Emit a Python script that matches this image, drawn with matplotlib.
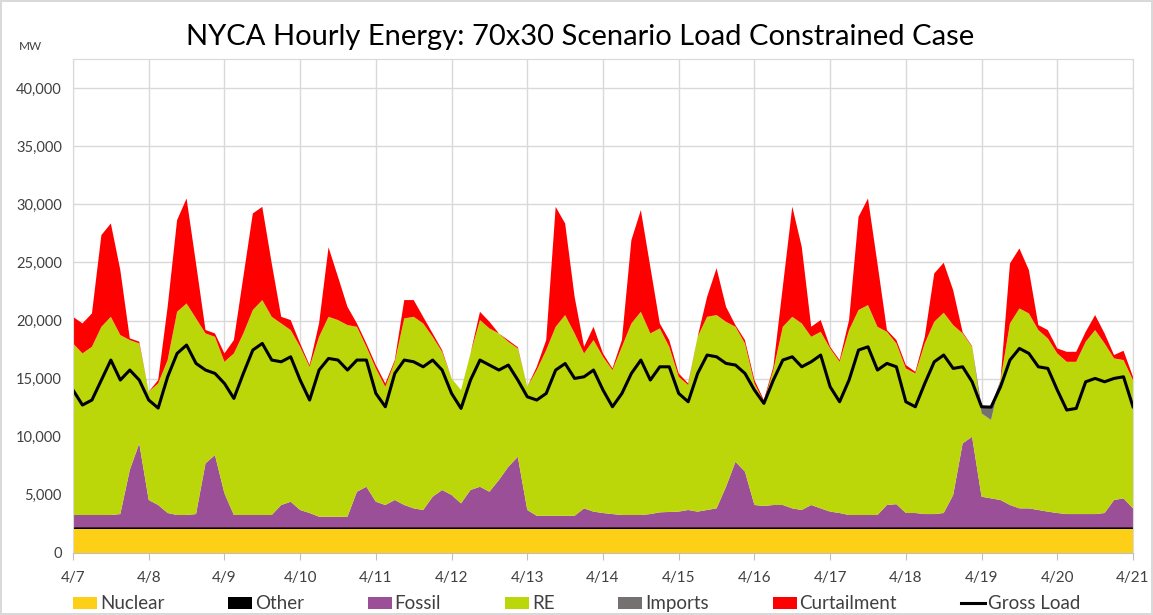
import matplotlib
matplotlib.use("Agg")
import matplotlib.pyplot as plt
import numpy as np
from matplotlib.ticker import StrMethodFormatter

plt.rcParams['font.family'] = ['Lato', 'DejaVu Sans']

# 3-hourly samples, 4/7 00:00 through 4/21 00:00 (values in MW)
day_labels = ["4/7", "4/8", "4/9", "4/10", "4/11", "4/12", "4/13", "4/14",
              "4/15", "4/16", "4/17", "4/18", "4/19", "4/20", "4/21"]
hours = np.arange(0, 337, 3)
days = hours / 24.0

nuclear = np.full(len(hours), 2050)
other = np.full(len(hours), 150)

fossil = [
    1070, 1070, 1070, 1070, 1070, 1150, 4940, 7230,   # 4/7
    2360, 1930, 1240, 1070, 1070, 1150, 5510, 6230,   # 4/8
    2930, 1070, 1070, 1070, 1070, 1070, 1930, 2210,   # 4/9
    1500, 1240, 920, 920, 920, 920, 3070, 3500,       # 4/10
    2210, 1930, 2360, 1930, 1640, 1500, 2640, 3220,   # 4/11
    2790, 2070, 3220, 3500, 3070, 4080, 5220, 6080,   # 4/12
    1500, 1000, 1000, 1000, 1000, 1000, 1640, 1360,   # 4/13
    1240, 1150, 1070, 1070, 1070, 1150, 1300, 1330,   # 4/14
    1360, 1500, 1360, 1500, 1640, 3500, 5650, 4800,   # 4/15
    1930, 1850, 1930, 1930, 1640, 1500, 1930, 1640,   # 4/16
    1360, 1240, 1070, 1070, 1070, 1070, 1930, 2000,   # 4/17
    1240, 1240, 1150, 1150, 1240, 2790, 7230, 7800,   # 4/18
    2640, 2500, 2360, 1930, 1640, 1640, 1500, 1360,   # 4/19
    1240, 1150, 1150, 1150, 1150, 1240, 2360, 2500,   # 4/20
    1640,                                             # 4/21
]

renewables = [
    14760, 13900, 14470, 16190, 17050, 15400, 11180, 8600,    # 4/7
    9310, 10460, 13160, 17480, 18200, 16830, 11180, 10170,    # 4/8
    11320, 13900, 15620, 17630, 18490, 17050, 15620, 14770,   # 4/9
    14040, 12580, 15480, 17200, 16920, 16490, 14190, 12040,   # 4/10
    11470, 10170, 11890, 16050, 16480, 16050, 13760, 11890,   # 4/11
    10030, 9750, 11750, 14340, 14050, 12610, 10750, 9320,     # 4/12
    10600, 12540, 14260, 16260, 17270, 15690, 13330, 14760,   # 4/13
    13440, 12390, 14470, 16480, 17480, 15540, 15820, 14210,   # 4/14
    11600, 10750, 15040, 16620, 16630, 14190, 11610, 11030,   # 4/15
    10460, 8960, 11610, 15330, 16480, 16050, 14470, 15190,    # 4/16
    14040, 13010, 15910, 17630, 18060, 16190, 14900, 13830,   # 4/17
    12440, 12010, 14680, 16540, 17230, 14620, 9460, 7740,     # 4/18
    7170, 6740, 10320, 15620, 17200, 16770, 15480, 14900,     # 4/19
    13730, 13100, 13100, 14820, 15830, 14590, 12180, 11900,   # 4/20
    11040,                                                    # 4/21
]

imports = [
    0, 0, 0, 0, 0, 0, 0, 0,        # 4/7
    0, 0, 0, 0, 0, 0, 0, 0,        # 4/8
    0, 0, 0, 0, 0, 0, 0, 0,        # 4/9
    0, 0, 0, 0, 0, 0, 0, 0,        # 4/10
    0, 0, 0, 0, 0, 0, 0, 0,        # 4/11
    0, 0, 0, 0, 0, 0, 0, 0,        # 4/12
    0, 0, 0, 0, 0, 0, 0, 0,        # 4/13
    0, 0, 0, 0, 0, 0, 0, 0,        # 4/14
    0, 0, 0, 0, 0, 0, 0, 0,        # 4/15
    0, 0, 0, 0, 0, 0, 0, 0,        # 4/16
    0, 0, 0, 0, 0, 0, 0, 0,        # 4/17
    0, 0, 0, 0, 0, 0, 0, 0,        # 4/18
    570, 1160, 0, 0, 0, 0, 0, 0,   # 4/19
    0, 0, 0, 0, 0, 0, 0, 0,        # 4/20
    0,                             # 4/21
]

curtailment = [
    2290, 2580, 2870, 7890, 8030, 5590, 150, 150,    # 4/7
    0, 290, 4580, 7890, 9030, 4730, 300, 290,        # 4/8
    720, 1150, 4870, 8310, 8020, 4590, 570, 860,     # 4/9
    290, 150, 1150, 5980, 3720, 1570, 290, 290,      # 4/10
    290, 290, 150, 1580, 1440, 570, 290, 150,        # 4/11
    0, 0, 0, 710, 580, 0, 130, 100,                  # 4/12
    0, 280, 860, 10320, 7880, 3150, 570, 1140,       # 4/13
    290, 140, 580, 7170, 8750, 5730, 430, 580,       # 4/14
    290, 140, 0, 1720, 4030, 1290, 140, 290,         # 4/15
    290, 150, 280, 3440, 9480, 6590, 860, 1010,      # 4/16
    140, 150, 860, 8020, 9170, 5450, 150, 290,       # 4/17
    290, 140, 570, 4160, 4300, 3000, 100, 60,        # 4/18
    0, 0, 0, 5160, 5160, 3730, 430, 720,             # 4/19
    430, 860, 860, 860, 1290, 860, 290, 800,         # 4/20
    280,                                             # 4/21
]

gross_load = [
    14020, 12730, 13160, 14880, 16600, 14880, 15740, 14880,   # 4/7
    13160, 12470, 15160, 17170, 17890, 16310, 15740, 15450,   # 4/8
    14590, 13300, 15450, 17460, 18030, 16600, 16450, 16880,   # 4/9
    14880, 13160, 15740, 16740, 16600, 15740, 16600, 16600,   # 4/10
    13730, 12580, 15450, 16600, 16450, 16020, 16600, 15740,   # 4/11
    13730, 12440, 14880, 16600, 16170, 15740, 16170, 14880,   # 4/12
    13440, 13160, 13730, 15740, 16300, 15020, 15160, 15740,   # 4/13
    14020, 12580, 13730, 15450, 16600, 14880, 16020, 16020,   # 4/14
    13730, 13010, 15450, 17030, 16880, 16310, 16170, 15450,   # 4/15
    14020, 12870, 14880, 16600, 16880, 16020, 16450, 17030,   # 4/16
    14300, 13010, 14880, 17460, 17740, 15740, 16310, 16020,   # 4/17
    13010, 12580, 14590, 16450, 17030, 15880, 16020, 14730,   # 4/18
    12580, 12550, 14300, 16600, 17600, 17170, 16020, 15880,   # 4/19
    14020, 12300, 12440, 14730, 15020, 14730, 15020, 15160,   # 4/20
    12580,                                                    # 4/21
]

names = ["Nuclear", "Other", "Fossil", "RE", "Imports", "Curtailment"]
colors = ["#FDD017", "#000000", "#9B4F96", "#BBD70A", "#767171", "#FF0000"]

fig = plt.figure(figsize=(11.53, 6.15), dpi=100, edgecolor="#d9d9d9", linewidth=1.5)
ax = fig.add_axes([73 / 1153, 1 - 553 / 615, (1133 - 73) / 1153, (553 - 59) / 615])

areas = ax.stackplot(days, nuclear, other, fossil, renewables, imports, curtailment,
                     colors=colors, labels=names, linewidth=0)
load_line, = ax.plot(days, gross_load, color="black", lw=2.2, label="Gross Load")

ax.set_xlim(0, 14)
ax.set_ylim(0, 42500)
ax.set_yticks(np.arange(0, 40001, 5000))
ax.yaxis.set_major_formatter(StrMethodFormatter("{x:,.0f}"))
ax.set_xticks(np.arange(len(day_labels)))
ax.set_xticklabels(day_labels)

ax.grid(True, color="#d9d9d9", lw=1)
ax.set_axisbelow(True)
for side in ["top", "right", "left"]:
    ax.spines[side].set_color("#d9d9d9")
ax.spines["bottom"].set_color("#bfbfbf")
ax.tick_params(axis="y", length=0, labelsize=10.5, labelcolor="#404040", pad=8)
ax.tick_params(axis="x", length=5, color="#bfbfbf", labelsize=11, labelcolor="#404040", pad=8)

fig.text(0.503, 0.94, "NYCA Hourly Energy: 70x30 Scenario Load Constrained Case",
         ha="center", va="center", fontsize=21, color="black")
fig.text(0.026, 0.924, "MW", ha="center", va="center", fontsize=8.5, color="#404040")

fig.legend(list(areas) + [load_line], names + ["Gross Load"], loc="center",
           bbox_to_anchor=(0.5, 0.018), ncol=7, frameon=False, fontsize=13.5,
           handlelength=1.28, handleheight=0.6, handletextpad=0.16, columnspacing=3.4,
           labelcolor="#404040")

fig.savefig("out.png", dpi=100)
